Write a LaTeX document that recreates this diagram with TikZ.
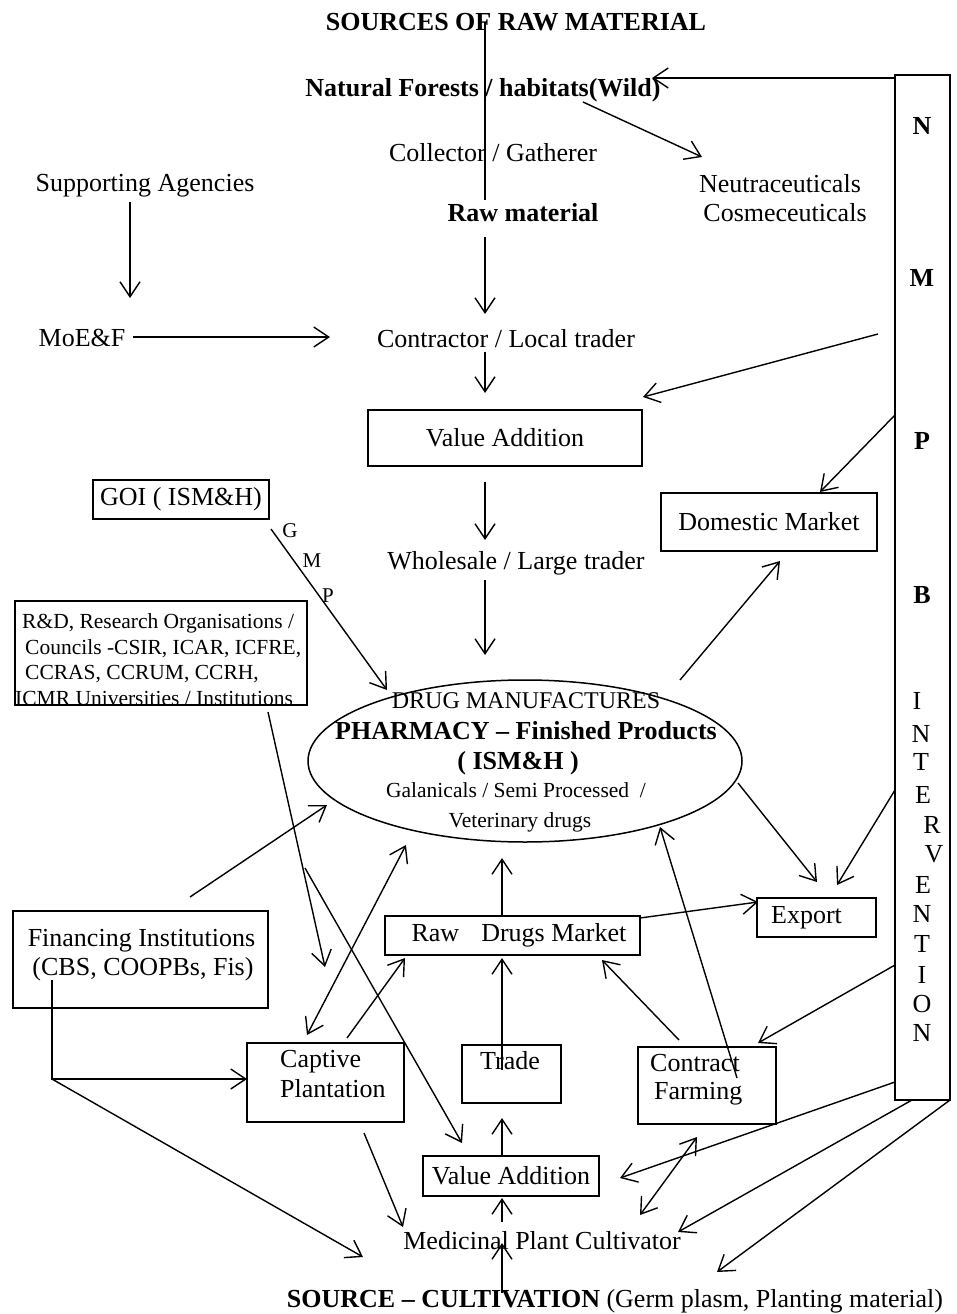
\documentclass[tikz,border=0pt]{standalone}
\usepackage{fontspec}
\setmainfont{Liberation Serif}
\usetikzlibrary{arrows.meta,shapes.geometric}
\newcommand\fsA{\fontsize{26}{29}\selectfont}
\newcommand\fsB{\fontsize{21.5}{25.5}\selectfont}
\newcommand\fsC{\fontsize{24}{28}\selectfont}
\newcommand\fsD{\fontsize{21}{24}\selectfont}
\begin{document}
\begin{tikzpicture}[x=1pt,y=-1pt,
  box/.style={draw, line width=1.5pt, inner sep=0pt, font=\fsA},
  txt/.style={inner sep=0pt, font=\fsA, anchor=base},
  txtb/.style={txt, font=\fsA\bfseries},
  txts/.style={inner sep=0pt, font=\fsB, anchor=base west},
  ln/.style={line width=1.4pt},
  arr/.style={line width=1.4pt, -{Straight Barb[length=15pt,width=20pt]}},
  darr/.style={line width=1.4pt, {Straight Barb[length=15pt,width=20pt]}-{Straight Barb[length=15pt,width=20pt]}}]
\useasboundingbox (0,0) rectangle (956,1314);
\fill[white] (0,0) rectangle (956,1314);

% ---------- text nodes ----------
\node[txtb] (title) at (516,31) {SOURCES OF RAW MATERIAL};
\node[txtb] (nf) at (483,96) {Natural Forests / habitats(Wild)};
\node[txt] (coll) at (493,161) {Collector / Gatherer};
\node[txtb] (raw) at (523,221) {Raw material};
\node[txt] (neu1) at (780,192) {Neutraceuticals};
\node[txt] (neu2) at (785,221) {Cosmeceuticals};
\node[txt] (sa) at (145,191) {Supporting Agencies};
\node[txt] (moef) at (82,346) {MoE\&F};
\node[txt] (ct) at (506,347) {Contractor / Local trader};
\node[txt] (ws) at (516,569) {Wholesale / Large trader};
\node[txt] (mpc) at (542,1249) {Medicinal Plant Cultivator};
\node[txt] (src) at (615,1307) {\bfseries SOURCE -- CULTIVATION\mdseries{} (Germ plasm, Planting material)};

% ---------- boxes ----------
\node[box, minimum width=274pt, minimum height=56pt] (va1) at (505,438) {Value Addition};
\node[box, minimum width=216pt, minimum height=58pt] (dom) at (769,522) {Domestic Market};
\node[box, minimum width=176pt, minimum height=39pt] (goi) at (181,499.5) {GOI ( ISM\&H)};
\node[txt, font=\fsD] (g1) at (290,537) {G};
\node[txt, font=\fsD] (g2) at (312,567) {M};
\node[txt, font=\fsD] (g3) at (328,602) {P};

\node[box, minimum width=292pt, minimum height=104pt] (rd) at (161,653) {};
\node[txts] (rd1) at (22,628) {R\&D, Research Organisations /};
\node[txts] (rd2) at (25,654) {Councils -CSIR, ICAR, ICFRE,};
\node[txts] (rd3) at (25,679) {CCRAS, CCRUM, CCRH,};
\node[txts] (rd4) at (15,705) {ICMR Universities / Institutions};

\node[draw, ellipse, line width=1.5pt, minimum width=434pt, minimum height=162pt, inner sep=0pt] (dm) at (525,761) {};
\node[txt, font=\fsC] (dm1) at (526,708) {DRUG MANUFACTURES};
\node[txtb] (dm2) at (526,739) {PHARMACY -- Finished Products};
\node[txtb] (dm3) at (518,769) {( ISM\&H )};
\node[txt, font=\fsB] (dm4) at (516,797) {Galanicals / Semi Processed\ \ /};
\node[txt, font=\fsB] (dm5) at (520,827) {Veterinary drugs};

\node[box, minimum width=255pt, minimum height=39pt] (rdm) at (512.5,935.5) {\hspace*{13pt}Raw\hspace{22pt}Drugs Market};
\node[box, minimum width=119pt, minimum height=39pt] (exp) at (816.5,917.5) {Export\hspace*{20pt}};

\node[box, minimum width=255pt, minimum height=97pt] (fin) at (140.5,959.5) {};
\node[txt] (fin1) at (141.5,946) {Financing Institutions};
\node[txt] (fin2) at (143,975) {(CBS, COOPBs, Fis)};

\node[box, minimum width=157pt, minimum height=79pt] (cap) at (325.5,1082.5) {};
\node[txt, anchor=base west] (cap1) at (280,1067) {Captive};
\node[txt, anchor=base west] (cap2) at (280,1097) {Plantation};

\node[box, minimum width=99pt, minimum height=58pt] (trade) at (511.5,1074) {};
\node[txt] (trade1) at (510,1069) {Trade};

\node[box, minimum width=138pt, minimum height=77pt] (cf) at (707,1085.5) {};
\node[txt, anchor=base west] (cf1) at (650,1071) {Contract};
\node[txt, anchor=base west] (cf2) at (654,1099) {Farming};

\node[box, minimum width=176pt, minimum height=40pt] (va2) at (511,1176) {Value Addition};

% ---------- NMPB bar ----------
\node[draw, line width=1.5pt, minimum width=55pt, minimum height=1025pt, inner sep=0pt] (bar) at (922.5,587.5) {};
\foreach \l/\yy in {N/125, M/277, P/440, B/594}
  \node[txtb] at (922,\yy+9) {\l};
\foreach \l/\xx/\yy in {I/917/700, N/921/733, T/921/761, E/923/794, R/932/824, V/934/853, E/923/884, N/922/913, T/922/943, I/922/974, O/922/1003, N/922/1032}
  \node[txt] at (\xx,\yy+9) {\l};

% ---------- coordinates for free ends ----------
\coordinate (t0) at (485,22);   \coordinate (t1) at (485,200);
\coordinate (r0) at (485,237);  \coordinate (r1) at (485,314);
\coordinate (n0) at (583,102);  \coordinate (n1) at (702,157);
\coordinate (b0) at (895,78);   \coordinate (b1) at (652,78);
\coordinate (s0) at (130,202);  \coordinate (s1) at (130,298);
\coordinate (m0) at (133,337);  \coordinate (m1) at (330,337);
\coordinate (c0) at (485,352);  \coordinate (c1) at (485,393);
\coordinate (p0) at (878,334);  \coordinate (p1) at (643,397);
\coordinate (q0) at (895,415);  \coordinate (q1) at (820,492);
\coordinate (v0) at (485,482);  \coordinate (v1) at (485,540);
\coordinate (w0) at (485,580);  \coordinate (w1) at (485,655);
\coordinate (g0) at (271,529);  \coordinate (g9) at (387,690);
\coordinate (e0) at (680,680);  \coordinate (e1) at (780,561);
\coordinate (x0) at (738,783);  \coordinate (x1) at (817,882);
\coordinate (y0) at (895,790);  \coordinate (y1) at (837,885);
\coordinate (k0) at (640,918);  \coordinate (k1) at (758,902);
\coordinate (k2) at (502,916);  \coordinate (k3) at (502,858);
\coordinate (f0) at (190,897);  \coordinate (f1) at (327,805);
\coordinate (h0) at (268,712);  \coordinate (h1) at (325,967);
\coordinate (u0) at (305,868);  \coordinate (u1) at (462,1143);
\coordinate (a0) at (307,1035); \coordinate (a1) at (406,845);
\coordinate (a2) at (347,1038); \coordinate (a3) at (405,958);
\coordinate (d0) at (502,1070); \coordinate (d1) at (502,958);
\coordinate (j0) at (679,1040); \coordinate (j1) at (602,960);
\coordinate (j2) at (737,1078); \coordinate (j3) at (660,827);
\coordinate (i0) at (895,965);  \coordinate (i1) at (758,1043);
\coordinate (l0) at (52,980);   \coordinate (l1) at (52,1079);
\coordinate (l2) at (247,1079); \coordinate (l3) at (363,1257);
\coordinate (o0) at (364,1133); \coordinate (o1) at (403,1227);
\coordinate (z0) at (502,1156); \coordinate (z1) at (502,1118);
\coordinate (z2) at (502,1222); \coordinate (z3) at (502,1198);
\coordinate (z4) at (502,1293); \coordinate (z5) at (502,1243);
\coordinate (i2) at (895,1082); \coordinate (i3) at (620,1178);
\coordinate (i4) at (697,1137); \coordinate (i5) at (640,1215);
\coordinate (i6) at (912,1100); \coordinate (i7) at (678,1232);
\coordinate (i8) at (950,1100); \coordinate (i9) at (717,1272);

% ---------- connectors ----------
\draw[ln] (t0) -- (t1);
\draw[arr] (r0) -- (r1);
\draw[arr] (n0) -- (n1);
\draw[arr] (b0) -- (b1);
\draw[arr] (s0) -- (s1);
\draw[arr] (m0) -- (m1);
\draw[arr] (c0) -- (c1);
\draw[arr] (p0) -- (p1);
\draw[arr] (q0) -- (q1);
\draw[arr] (v0) -- (v1);
\draw[arr] (w0) -- (w1);
\draw[arr] (g0) -- (g9);
\draw[arr] (e0) -- (e1);
\draw[arr] (x0) -- (x1);
\draw[arr] (y0) -- (y1);
\draw[arr] (k0) -- (k1);
\draw[arr] (k2) -- (k3);
\draw[arr] (f0) -- (f1);
\draw[arr] (h0) -- (h1);
\draw[arr] (u0) -- (u1);
\draw[darr] (a0) -- (a1);
\draw[arr] (a2) -- (a3);
\draw[arr] (d0) -- (d1);
\draw[arr] (j0) -- (j1);
\draw[arr] (j2) -- (j3);
\draw[arr] (i0) -- (i1);
\draw[arr] (l0) -- (l1) -- (l2);
\draw[arr] (l1) -- (l3);
\draw[arr] (o0) -- (o1);
\draw[arr] (z0) -- (z1);
\draw[arr] (z2) -- (z3);
\draw[arr] (z4) -- (z5);
\draw[arr] (i2) -- (i3);
\draw[darr] (i4) -- (i5);
\draw[arr] (i6) -- (i7);
\draw[arr] (i8) -- (i9);
\end{tikzpicture}
\end{document}
